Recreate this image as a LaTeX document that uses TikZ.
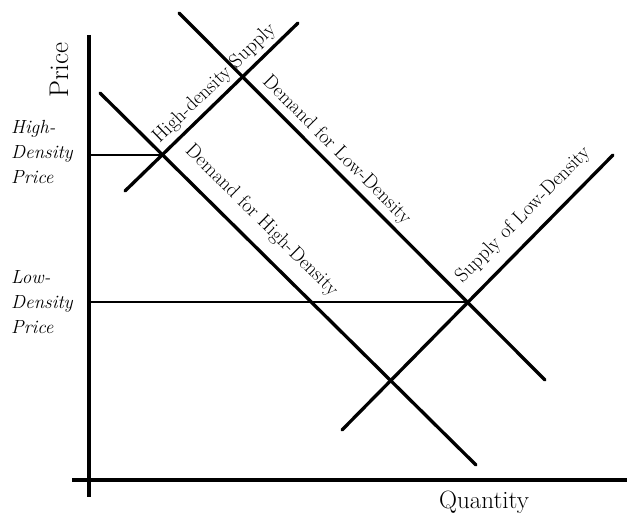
\documentclass[tikz,border=0pt]{standalone}
\usetikzlibrary{positioning}

\begin{document}
\begin{tikzpicture}[
  x=1pt, y=-1pt,
  axis/.style={line width=3.4pt},
  curve/.style={line width=3.3pt, line cap=round},
  level/.style={line width=2pt},
  lbl/.style={font=\fontsize{20}{22}\selectfont, inner sep=1pt},
  price/.style={font=\itshape\fontsize{19}{25}\selectfont, align=left,
                inner sep=0pt, anchor=west}
]
\useasboundingbox (0,0) rectangle (629,518);
\coordinate (ytop) at (89,35);
\coordinate (ybot) at (89,497);
\coordinate (xleft) at (72,480);
\coordinate (xright) at (627,480);
\coordinate (dhA) at (100,93);
\coordinate (dhB) at (476,465);
\coordinate (shA) at (125,191);
\coordinate (shB) at (298,23);
\coordinate (dlA) at (179,13);
\coordinate (dlB) at (545,380);
\coordinate (slA) at (342,430);
\coordinate (slB) at (613,155);
\coordinate (eqhigh) at (intersection of dhA--dhB and shA--shB);
\coordinate (eqlow) at (intersection of dlA--dlB and slA--slB);
\draw[level] (ytop |- eqhigh) -- (eqhigh);
\draw[level] (ytop |- eqlow) -- (eqlow);
\draw[axis] (ytop) -- (ybot);
\draw[axis] (xleft) -- (xright);
\draw[curve] (dhA) -- node[lbl, sloped, above=11pt, pos=0.387] (dhlabel) {Demand for High-Density} (dhB);
\draw[curve] (shA) -- node[lbl, sloped, above=3pt, pos=0.577] (shlabel) {High-density Supply} (shB);
\draw[curve] (dlA) -- node[lbl, sloped, above=3pt, pos=0.402] (dllabel) {Demand for Low-Density} (dlB);
\draw[curve] (slA) -- node[lbl, sloped, above=10pt, pos=0.726] (sllabel) {Supply of Low-Density} (slB);
\node[font=\fontsize{27}{30}\selectfont, rotate=90] (price) at (59,70) {Price};
\node[font=\fontsize{25}{28}\selectfont] (quantity) at (484,502) {Quantity};
\node[price] (highprice) at (11,152) {High-\\Density\\Price};
\node[price] (lowprice) at (11,302) {Low-\\Density\\Price};
\end{tikzpicture}
\end{document}
